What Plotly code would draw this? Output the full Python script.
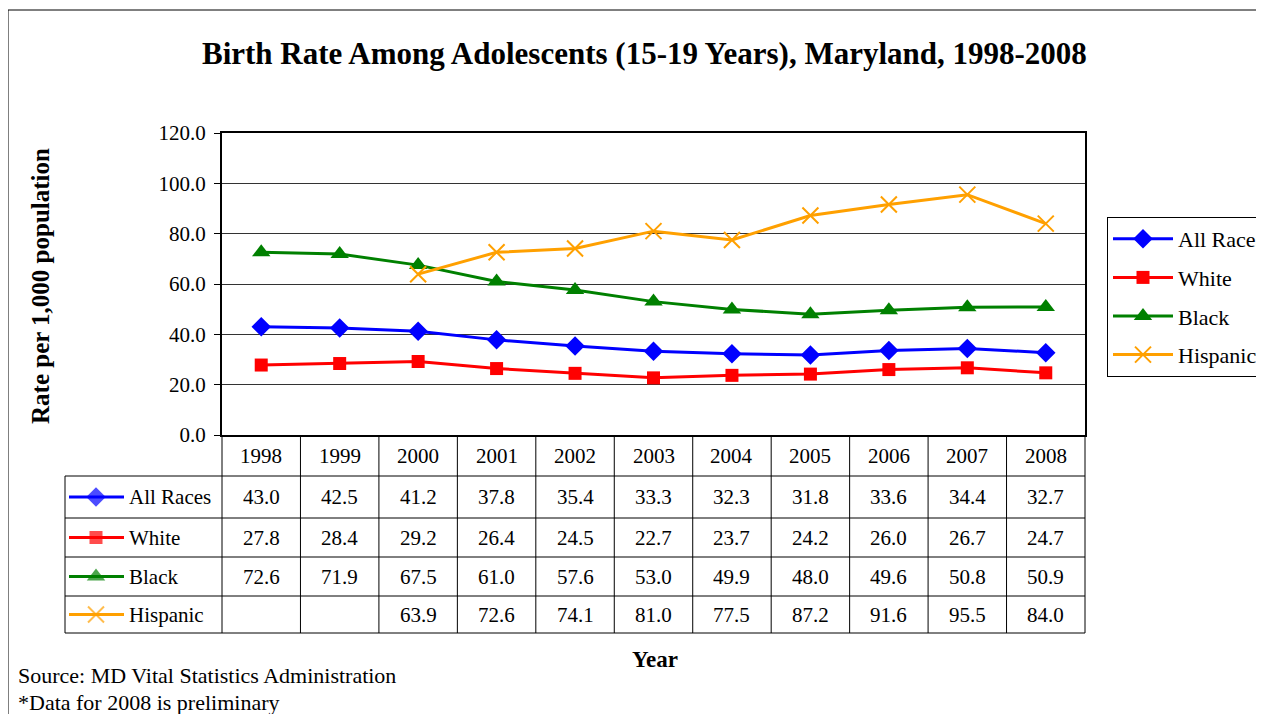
import plotly.graph_objects as go

# Birth rate per 1,000 females aged 15-19, Maryland
years = ["1998", "1999", "2000", "2001", "2002", "2003", "2004", "2005", "2006", "2007", "2008"]
all_races = [43.0, 42.5, 41.2, 37.8, 35.4, 33.3, 32.3, 31.8, 33.6, 34.4, 32.7]
white = [27.8, 28.4, 29.2, 26.4, 24.5, 22.7, 23.7, 24.2, 26.0, 26.7, 24.7]
black = [72.6, 71.9, 67.5, 61.0, 57.6, 53.0, 49.9, 48.0, 49.6, 50.8, 50.9]
hispanic = [None, None, 63.9, 72.6, 74.1, 81.0, 77.5, 87.2, 91.6, 95.5, 84.0]

W, H = 1264, 714
OFF = 8                                # page body margin
X0, X1, Y0, Y1 = 222, 1085, 133, 435   # plot area in screen pixels
ROW_Y = [476, 518, 557, 596, 633]      # table row lines
SERIF = "Liberation Serif, Times New Roman, serif"


def px(x):
    return (x - OFF) / W


def py(y):
    return 1 - (y - OFF) / H


series = [
    ("All Races", all_races, "#0000FF", dict(symbol="diamond", size=15)),
    ("White", white, "#FF0000", dict(symbol="square", size=13)),
    ("Black", black, "#008000", dict(symbol="triangle-up", size=16)),
    ("Hispanic", hispanic, "#FFA000", dict(symbol="x-thin-open", size=16, line=dict(width=2))),
]

fig = go.Figure()

for name, vals, color, mk in series:
    fig.add_trace(go.Scatter(
        x=years, y=vals, name=name, mode="lines+markers",
        line=dict(color=color, width=3),
        marker=dict(color=color, **mk),
        legendgroup=name,
        connectgaps=False,
    ))

shapes = []
annotations = []

# outer frame
shapes.append(dict(type="rect", xref="paper", yref="paper",
                   x0=px(8), x1=px(1280), y0=py(10), y1=py(730),
                   line=dict(color="black", width=1)))

# data table grid
col_w = (X1 - X0) / len(years)
line_style = dict(color="black", width=1)
for i in range(0, len(years) + 1):
    x = X0 + col_w * i
    shapes.append(dict(type="line", xref="paper", yref="paper",
                       x0=px(x), x1=px(x), y0=py(Y1), y1=py(ROW_Y[-1]), line=line_style))
shapes.append(dict(type="line", xref="paper", yref="paper",
                   x0=px(65), x1=px(65), y0=py(ROW_Y[0]), y1=py(ROW_Y[-1]), line=line_style))
for y in ROW_Y:
    shapes.append(dict(type="line", xref="paper", yref="paper",
                       x0=px(65), x1=px(X1), y0=py(y), y1=py(y), line=line_style))

cell_font = dict(family=SERIF, size=21, color="black")

# year header
for i, yr in enumerate(years):
    annotations.append(dict(x=px(X0 + col_w * (i + 0.5)), y=py((Y1 + ROW_Y[0]) / 2),
                            xref="paper", yref="paper", text=yr, showarrow=False,
                            font=cell_font, xanchor="center", yanchor="middle"))

# table values, row labels and keys
for r, (name, vals, color, mk) in enumerate(series):
    yc = (ROW_Y[r] + ROW_Y[r + 1]) / 2
    for i, v in enumerate(vals):
        if v is None:
            continue
        annotations.append(dict(x=px(X0 + col_w * (i + 0.5)), y=py(yc),
                                xref="paper", yref="paper", text=f"{v:.1f}", showarrow=False,
                                font=cell_font, xanchor="center", yanchor="middle"))
    annotations.append(dict(x=px(127), y=py(yc), xref="paper", yref="paper", text=name,
                            showarrow=False, font=cell_font, xanchor="left", yanchor="middle"))
    fig.add_trace(go.Scatter(
        x=[69 - OFF, 96 - OFF, 124 - OFF], y=[yc - OFF] * 3, mode="lines+markers",
        line=dict(color=color, width=3),
        marker=dict(color=color, size=[0, mk["size"], 0], symbol=mk["symbol"],
                    line=mk.get("line", dict(width=0))),
        xaxis="x2", yaxis="y2", showlegend=False, hoverinfo="skip",
    ))

# titles and notes
annotations.append(dict(x=px(644), y=py(53), xref="paper", yref="paper",
                        text="<b>Birth Rate Among Adolescents (15-19 Years), Maryland, 1998-2008</b>",
                        showarrow=False, font=dict(family=SERIF, size=31, color="black"),
                        xanchor="center", yanchor="middle"))
annotations.append(dict(x=px(41), y=py(286), xref="paper", yref="paper",
                        text="<b>Rate per 1,000 population</b>", textangle=-90,
                        showarrow=False, font=dict(family=SERIF, size=25, color="black"),
                        xanchor="center", yanchor="middle"))
annotations.append(dict(x=px(655), y=py(659), xref="paper", yref="paper",
                        text="<b>Year</b>", showarrow=False,
                        font=dict(family=SERIF, size=23, color="black"),
                        xanchor="center", yanchor="middle"))
annotations.append(dict(x=px(16), y=py(675), xref="paper", yref="paper",
                        text="Source: MD Vital Statistics Administration", showarrow=False,
                        font=dict(family=SERIF, size=22, color="black"),
                        xanchor="left", yanchor="middle"))
annotations.append(dict(x=px(16), y=py(702), xref="paper", yref="paper",
                        text="*Data for 2008 is preliminary", showarrow=False,
                        font=dict(family=SERIF, size=22, color="black"),
                        xanchor="left", yanchor="middle"))

fig.update_layout(
    width=W, height=H,
    margin=dict(l=0, r=0, t=0, b=0),
    paper_bgcolor="white", plot_bgcolor="rgba(0,0,0,0)",
    font=dict(family=SERIF, color="black"),
    xaxis=dict(domain=[px(X0), px(X1)], type="category", range=[-0.5, len(years) - 0.5],
               showticklabels=False, ticks="", showgrid=False, showline=True,
               linecolor="black", linewidth=2, mirror=True, automargin=False, zeroline=False),
    yaxis=dict(domain=[py(Y1), py(Y0)], range=[0, 120], dtick=20, tickformat=".1f",
               ticks="outside", ticklen=6, tickcolor="black",
               showgrid=True, gridcolor="#333333", gridwidth=1,
               showline=True, linecolor="black", linewidth=2, mirror=True,
               tickfont=dict(family=SERIF, size=21, color="black"),
               ticklabelstandoff=4,
               automargin=False, zeroline=False),
    xaxis2=dict(domain=[0, 1], range=[0, W], visible=False, anchor="y2", fixedrange=True),
    yaxis2=dict(domain=[0, 1], range=[H, 0], visible=False, anchor="x2", fixedrange=True),
    legend=dict(x=px(1107), y=py(217), xanchor="left", yanchor="top",
                bgcolor="white", bordercolor="black", borderwidth=1,
                font=dict(family=SERIF, size=22, color="black"),
                tracegroupgap=7, itemwidth=60),
    shapes=shapes,
    annotations=annotations,
    showlegend=True,
)

fig.write_html("out.html")
